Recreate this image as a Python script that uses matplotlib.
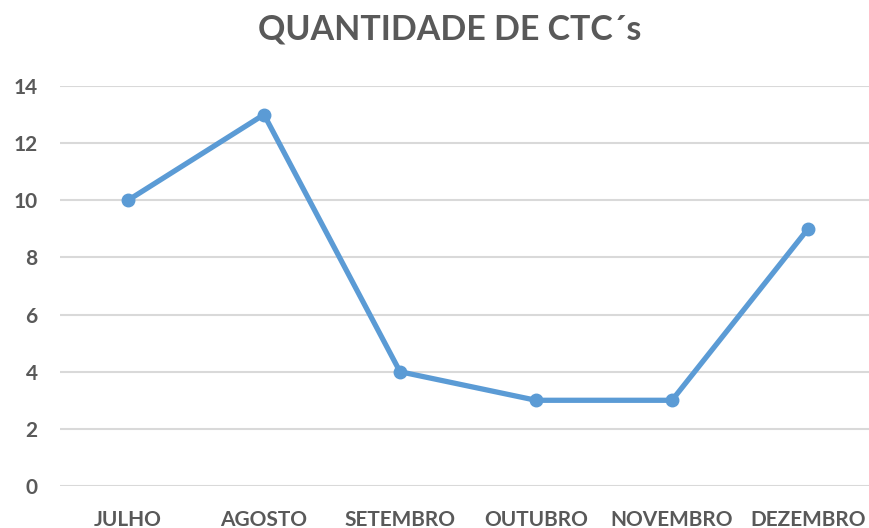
import matplotlib
matplotlib.use('Agg')
import matplotlib.pyplot as plt

months = ['JULHO', 'AGOSTO', 'SETEMBRO', 'OUTUBRO', 'NOVEMBRO', 'DEZEMBRO']
ctc_counts = [10, 13, 4, 3, 3, 9]
y_ticks = [0, 2, 4, 6, 8, 10, 12, 14]

plt.rcParams['font.family'] = ['Lato', 'DejaVu Sans']

text_gray = '#595959'
line_blue = '#5B9BD5'

fig = plt.figure(figsize=(8.69, 5.28), dpi=100)
ax = fig.add_axes([60 / 869, 42 / 528, 809 / 869, 400 / 528])

x = list(range(len(months)))
ax.plot(x, ctc_counts, color=line_blue, linewidth=3.8, marker='o',
        markersize=9, solid_capstyle='round', zorder=3)

ax.set_xlim(-0.5, -0.5 + 809 / 136)
ax.set_ylim(0, 14)
ax.set_yticks(y_ticks)
ax.set_xticks(x)
ax.set_xticklabels(months)
ax.grid(axis='y', color='#D9D9D9', linewidth=1.5)
ax.set_axisbelow(True)

for s in ax.spines.values():
    s.set_visible(False)
ax.tick_params(length=0, labelsize=15, labelcolor=text_gray)
ax.tick_params(axis='x', pad=17)
ax.tick_params(axis='y', pad=16)
for lbl in ax.get_xticklabels() + ax.get_yticklabels():
    lbl.set_fontweight('bold')

fig.text(450 / 869, 1 - 30 / 528, 'QUANTIDADE DE CTC´s', ha='center', va='center',
         fontsize=24.5, fontweight='bold', color=text_gray)

fig.savefig('out.png', dpi=100)
